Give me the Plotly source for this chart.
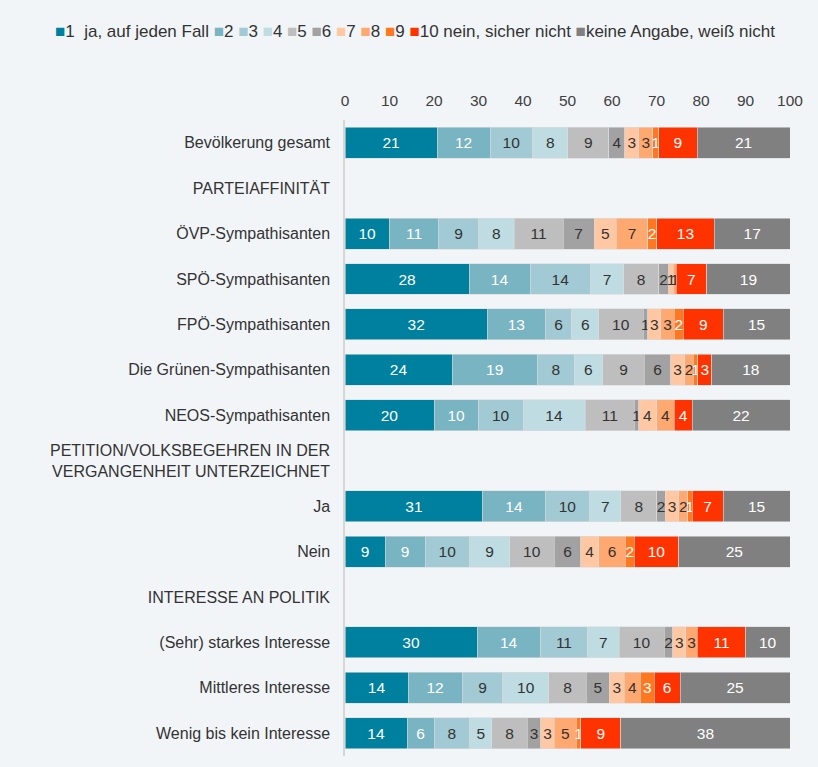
import plotly.graph_objects as go

categories = [
    "Bevölkerung gesamt",
    "PARTEIAFFINITÄT",
    "ÖVP-Sympathisanten",
    "SPÖ-Sympathisanten",
    "FPÖ-Sympathisanten",
    "Die Grünen-Sympathisanten",
    "NEOS-Sympathisanten",
    "PETITION/VOLKSBEGEHREN IN DER<br>VERGANGENHEIT UNTERZEICHNET",
    "Ja",
    "Nein",
    "INTERESSE AN POLITIK",
    "(Sehr) starkes Interesse",
    "Mittleres Interesse",
    "Wenig bis kein Interesse",
]

series_names = ["1  ja, auf jeden Fall", "2", "3", "4", "5", "6", "7", "8", "9",
                "10 nein, sicher nicht", "keine Angabe, weiß nicht"]

# percentages (labels are these values rounded)
N = None
s1 = [20.7, N, 10, 27.9, 32, 24.1, 20, N, 31, 9, N, 29.7, 14.2, 14]
s2 = [11.9, N, 11, 13.7, 13, 19.1, 10, N, 14, 9, N, 14.2, 12.1, 6]
s3 = [9.6, N, 9, 13.6, 6, 8.3, 10, N, 10, 10, N, 10.6, 9.2, 8]
s4 = [7.9, N, 8, 7.4, 6, 6.4, 14, N, 7, 9, N, 7.1, 10.3, 5]
s5 = [9.2, N, 11, 7.9, 10, 9.4, 11, N, 8, 10, N, 10.1, 8.4, 8]
s6 = [3.6, N, 7, 2.2, 1, 5.9, 1, N, 2, 6, N, 2.0, 5.2, 3]
s7 = [3.1, N, 5, 1.1, 3, 3.1, 4, N, 3, 4, N, 2.9, 3.4, 3]
s8 = [3.2, N, 7, 0.6, 3, 2.0, 4, N, 2, 6, N, 2.6, 3.6, 5]
s9 = [1.3, N, 2, 0, 2, 1.0, 0, N, 1, 2, N, 0, 3.1, 1]
s10 = [8.6, N, 13, 6.9, 9, 3.1, 4, N, 7, 10, N, 10.8, 5.8, 9]
s11 = [20.9, N, 17, 18.7, 15, 17.6, 22, N, 15, 25, N, 10.0, 24.7, 38]

series_values = [s1, s2, s3, s4, s5, s6, s7, s8, s9, s10, s11]

colors = ["#00809F", "#78B4C2", "#A2CAD4", "#BEDCE2", "#BEBEBE", "#A2A2A2",
          "#FFC8A2", "#FFA870", "#FF7820", "#FF3300", "#808080"]
text_colors = ["white", "white", "#333333", "#333333", "#333333", "#333333",
               "#333333", "#333333", "white", "white", "white"]

FONT = "Liberation Sans, Arial, sans-serif"
BG = "#F2F5F8"

fig = go.Figure()
for name, vals, col, tcol in zip(series_names, series_values, colors, text_colors):
    fig.add_trace(go.Bar(
        y=categories,
        x=vals,
        name=name,
        orientation="h",
        marker=dict(color=col, line=dict(color="#DADADA", width=0.6)),
        text=[str(round(v)) if v else "" for v in vals],
        textposition="inside",
        insidetextanchor="middle",
        constraintext="none",
        textangle=0,
        insidetextfont=dict(color=tcol, size=15.5, family=FONT),
        hoverinfo="skip",
        showlegend=False,
    ))

# compact legend built from series names and colours
legend_html = "&nbsp;".join(
    f'<span style="color:{c}">■</span>{n}' for n, c in zip(series_names, colors)
)
fig.add_annotation(
    text=legend_html,
    xref="paper", yref="paper",
    x=(415 - 345) / 445, y=1 + (120 - 31) / 636,
    xanchor="center", yanchor="middle",
    showarrow=False,
    font=dict(size=17, color="#333333", family=FONT),
)

fig.update_layout(
    barmode="stack",
    bargap=0.32,
    width=818,
    height=767,
    margin=dict(l=345, r=28, t=120, b=11),
    paper_bgcolor=BG,
    plot_bgcolor=BG,
    font=dict(family=FONT, size=15.5, color="#404040"),
    xaxis=dict(
        side="top",
        range=[0, 100],
        tickvals=[0, 10, 20, 30, 40, 50, 60, 70, 80, 90, 100],
        showgrid=False,
        zeroline=False,
        showline=False,
        ticks="",
        ticklabelstandoff=10,
        tickfont=dict(size=15.5, color="#404040"),
        fixedrange=True,
    ),
    yaxis=dict(
        type="category",
        autorange="reversed",
        showgrid=False,
        showline=True,
        linecolor="#D6D6D6",
        linewidth=1.5,
        ticks="",
        ticklabelstandoff=10,
        tickfont=dict(size=16, color="#333333"),
    ),
)

fig.write_html(
    "out.html",
    config={"displayModeBar": False},
    post_script="document.body.style.margin='0';document.body.style.overflow='hidden';",
)
